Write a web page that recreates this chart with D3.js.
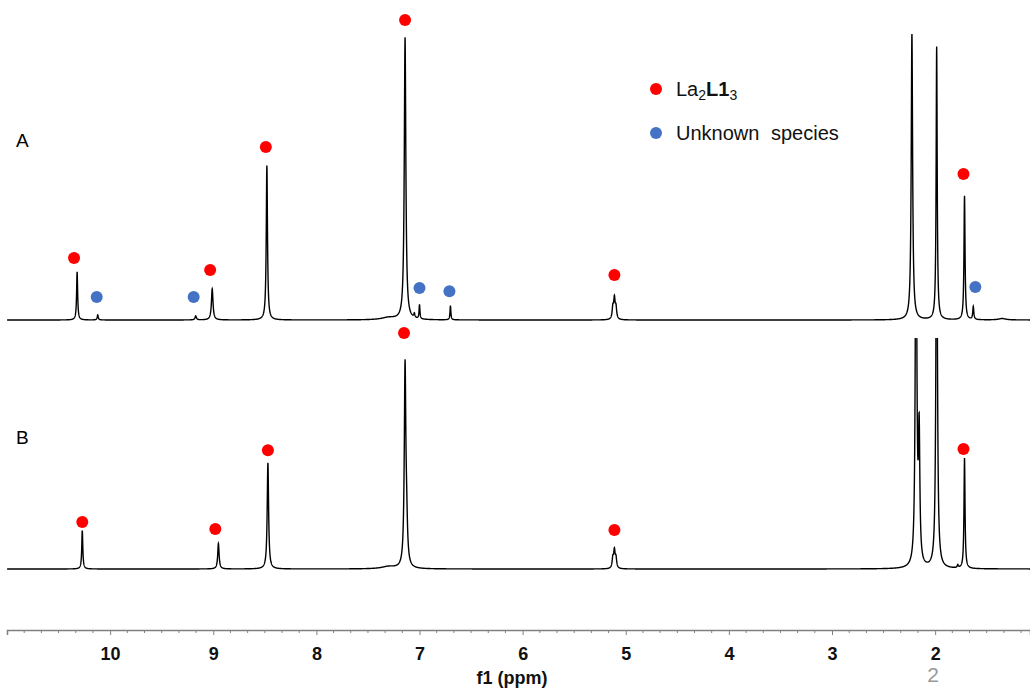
<!DOCTYPE html>
<html>
<head>
<meta charset="utf-8">
<script src="https://cdn.jsdelivr.net/npm/d3@7"></script>
<style>
  body { margin: 0; background: #fff; }
  svg { display: block; font-family: "Liberation Sans", Arial, sans-serif; }
</style>
</head>
<body>
<svg width="1030" height="688"></svg>
<script>
// peak lists: shift (ppm), height (A 7.14 peak = 100), half width (ppm)
var peaksA_ppm    = [10.32, 10.12, 9.17, 9.01, 8.48, 7.30, 7.14, 7.05, 7.00, 6.70, 5.125, 5.11, 5.095, 2.225, 1.985, 1.715, 1.63, 1.35];
var peaksA_height = [17.0,  1.8,   1.4,  11.0, 54.6, 0.8,  99.5, 1.5,  5.0,  5.0,  4.0,   7.0,  4.0,   101,  96.5, 43.8,  4.6,  0.5];
var peaksA_width  = [0.006, 0.006, 0.008, 0.009, 0.007, 0.08, 0.009, 0.006, 0.005, 0.005, 0.008, 0.008, 0.008, 0.008, 0.006, 0.006, 0.006, 0.04];

var peaksB_ppm    = [10.27, 8.95, 8.47, 7.30, 7.14, 7.125, 5.125, 5.11, 5.095, 2.185, 2.155, 1.985, 1.78, 1.715];
var peaksB_height = [13.6,  9.0,  37.5, 0.8,  70,   12,    3.5,   6.0,  3.5,   150,   45,    150,   1.0,  39.0];
var peaksB_width  = [0.006, 0.008, 0.008, 0.08, 0.009, 0.01, 0.008, 0.008, 0.008, 0.008, 0.008, 0.008, 0.006, 0.006];

// dot markers (ppm, level in the same units)
var redA_ppm  = [10.35, 9.03, 8.49, 7.14, 5.11, 1.725];
var redA_lvl  = [21.9, 17.7, 61.1, 106, 15.9, 51.6];
var blueA_ppm = [10.13, 9.19, 7.00, 6.71, 1.61];
var blueA_lvl = [8.1, 8.1, 11.3, 10.2, 11.7];
var redB_ppm  = [10.27, 8.98, 8.47, 7.15, 5.11, 1.725];
var redB_lvl  = [16.6, 14.1, 42, 83.4, 13.8, 42.4];

var majorTicks = [10, 9, 8, 7, 6, 5, 4, 3, 2];
var legendLabels = ["La2L13", "Unknown species"];

var svg = d3.select("svg");
var x = d3.scaleLinear().domain([11.0, 1.08]).range([7, 1030]);
var yA = d3.scaleLinear().domain([0, 100]).range([320, 37]);
var yB = d3.scaleLinear().domain([0, 100]).range([569, 286]);

function spectrum(ppm, h, w) {
  var grid = d3.range(1.08, 11.0, 0.001).concat(ppm).sort(d3.descending);
  return grid.map(function(p) {
    var v = 0;
    for (var i = 0; i < ppm.length; i++) {
      var d = (p - ppm[i]) / w[i];
      v += h[i] / (1 + d * d);
    }
    return [p, v];
  });
}

svg.append("defs").append("clipPath").attr("id", "clipB")
  .append("rect").attr("x", 0).attr("y", 338).attr("width", 1030).attr("height", 300);

var lineA = d3.line().x(function(d) { return x(d[0]); }).y(function(d) { return yA(d[1]); });
var lineB = d3.line().x(function(d) { return x(d[0]); }).y(function(d) { return yB(d[1]); });

svg.append("path")
  .datum(spectrum(peaksA_ppm, peaksA_height, peaksA_width))
  .attr("d", lineA).attr("fill", "none").attr("stroke", "#000").attr("stroke-width", 1.4);

svg.append("path")
  .datum(spectrum(peaksB_ppm, peaksB_height, peaksB_width))
  .attr("clip-path", "url(#clipB)")
  .attr("d", lineB).attr("fill", "none").attr("stroke", "#000").attr("stroke-width", 1.4);

// markers
function dots(ppm, lvl, ys, color) {
  svg.append("g").selectAll("circle").data(ppm).join("circle")
    .attr("cx", function(d) { return x(d); })
    .attr("cy", function(d, i) { return ys(lvl[i]); })
    .attr("r", 6).attr("fill", color);
}
dots(redA_ppm, redA_lvl, yA, "#ff0000");
dots(blueA_ppm, blueA_lvl, yA, "#4472c4");
dots(redB_ppm, redB_lvl, yB, "#ff0000");

// trace labels
svg.append("text").attr("x", 16).attr("y", 147).attr("font-size", 19).text("A");
svg.append("text").attr("x", 16).attr("y", 444).attr("font-size", 19).text("B");

// legend
svg.append("circle").attr("cx", 656).attr("cy", 89).attr("r", 6).attr("fill", "#ff0000");
svg.append("circle").attr("cx", 656).attr("cy", 133).attr("r", 6).attr("fill", "#4472c4");
var lg = svg.append("text").attr("x", 676).attr("y", 96).attr("font-size", 20).attr("fill", "#111");
lg.append("tspan").text("La");
lg.append("tspan").attr("font-size", 14).attr("dy", 4).text("2");
lg.append("tspan").attr("font-weight", "bold").attr("dy", -4).text("L1");
lg.append("tspan").attr("font-size", 14).attr("dy", 4).text("3");
svg.append("text").attr("x", 676).attr("y", 140).attr("font-size", 20).attr("fill", "#111")
  .attr("word-spacing", 6).text(legendLabels[1]);

// axis
var axis = d3.axisBottom(x)
  .tickValues(majorTicks)
  .tickFormat(d3.format("d"))
  .tickSize(5)
  .tickPadding(12);
var ag = svg.append("g").attr("transform", "translate(0,630)").call(axis);
ag.select(".domain").attr("stroke", "#808080").attr("stroke-width", 1.5);
ag.selectAll(".tick line").attr("stroke", "#808080");
ag.selectAll(".tick text").attr("font-size", 18).attr("font-weight", "bold")
  .attr("font-family", "Liberation Sans, Arial, sans-serif").attr("fill", "#111");

var minorVals = [];
majorTicks.concat([11]).forEach(function(m) {
  for (var k = 1; k < 6; k++) {
    var v = m - k / 6;
    if (v > 1.08) minorVals.push(v);
  }
});
svg.append("g").selectAll("line").data(minorVals).join("line")
  .attr("x1", function(d) { return x(d); }).attr("x2", function(d) { return x(d); })
  .attr("y1", 630).attr("y2", 633).attr("stroke", "#808080");

svg.append("text").attr("x", 512).attr("y", 684).attr("text-anchor", "middle")
  .attr("font-size", 18).attr("font-weight", "bold").attr("fill", "#111").text("f1 (ppm)");
svg.append("text").attr("x", 933).attr("y", 682).attr("text-anchor", "middle")
  .attr("font-size", 21).attr("fill", "#999").text("2");
</script>
</body>
</html>
